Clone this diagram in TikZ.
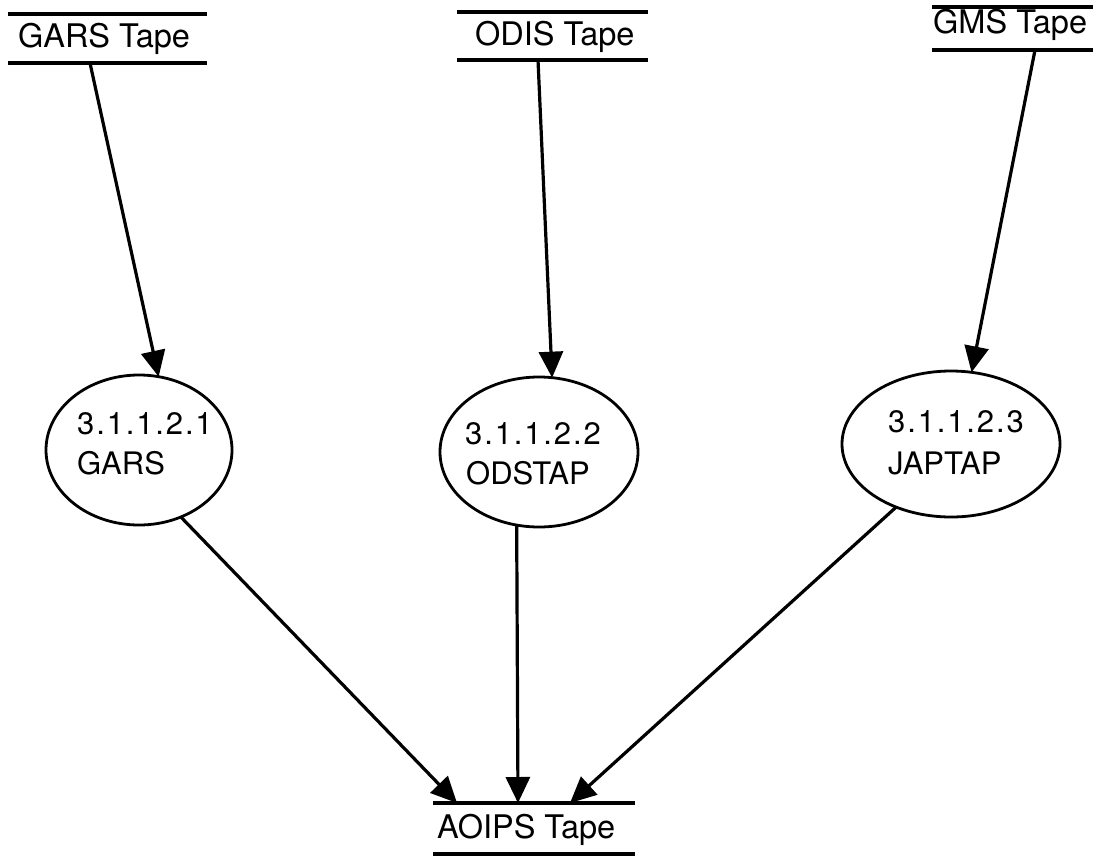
\documentclass[tikz,border=0pt]{standalone}
\usepackage{fontspec}
\setmainfont{TeX Gyre Heros}
\usetikzlibrary{arrows.meta,shapes.geometric}
\begin{document}
\begin{tikzpicture}[x=1pt,y=-1pt,
  tapeline/.style={line width=3.4pt},
  proc/.style={draw, ellipse, line width=2.8pt, inner sep=0pt, outer sep=0pt},
  flow/.style={line width=3.2pt, -{Triangle[length=26pt,width=24pt]}},
  tapelbl/.style={inner sep=0pt, anchor=base west, font=\fontsize{32.5}{39}\selectfont},
  proclbl/.style={inner sep=0pt, anchor=base west, font=\fontsize{31}{37}\selectfont},
  numlbl/.style={proclbl, font=\fontsize{31}{37}\selectfont\addfontfeature{LetterSpace=6}},
]
\useasboundingbox (0,0) rectangle (1100,857);

% data stores (tapes)
\draw[tapeline] (8,14) -- (207,14) (8,63) -- (207,63);
\node[tapelbl] (garsT) at (18,47) {GARS Tape};
\draw[tapeline] (457,12) -- (648,12) (457,60) -- (648,60);
\node[tapelbl] (odisT) at (475,45) {ODIS Tape};
\draw[tapeline] (932,7) -- (1093,7) (932,50) -- (1093,50);
\node[tapelbl] (gmsT) at (933,33) {GMS Tape};
\draw[tapeline] (433,803) -- (635,803) (433,854) -- (635,854);
\node[tapelbl] (aoipsT) at (437,838) {AOIPS Tape};

% processes
\node[proc, minimum width=186pt, minimum height=150pt] (gars) at (139,450) {};
\node[numlbl] (garsN) at (77,434) {3.1.1.2.1};
\node[proclbl] (garsL) at (77,474) {GARS};

\node[proc, minimum width=198pt, minimum height=150pt] (odstap) at (539,452) {};
\node[numlbl] (odstapN) at (465,444) {3.1.1.2.2};
\node[proclbl] (odstapL) at (466,484) {ODSTAP};

\node[proc, minimum width=218pt, minimum height=146pt] (japtap) at (951,444) {};
\node[numlbl] (japtapN) at (888,432) {3.1.1.2.3};
\node[proclbl] (japtapL) at (888,474) {JAPTAP};

% connector end points on the tape lines
\coordinate (garsOut) at (90,63);
\coordinate (odisOut) at (538,60);
\coordinate (gmsOut) at (1035,50);
\coordinate (aoipsA) at (457,803);
\coordinate (aoipsB) at (518,803);
\coordinate (aoipsC) at (570,803);

% flows
\draw[flow] (garsOut) -- (gars.75);
\draw[flow] (odisOut) -- (odstap.80);
\draw[flow] (gmsOut) -- (japtap.74);
\draw[flow] (gars.-58) -- (aoipsA);
\draw[flow] (odstap.-107) -- (aoipsB);
\draw[flow] (japtap.-131) -- (aoipsC);
\end{tikzpicture}
\end{document}
